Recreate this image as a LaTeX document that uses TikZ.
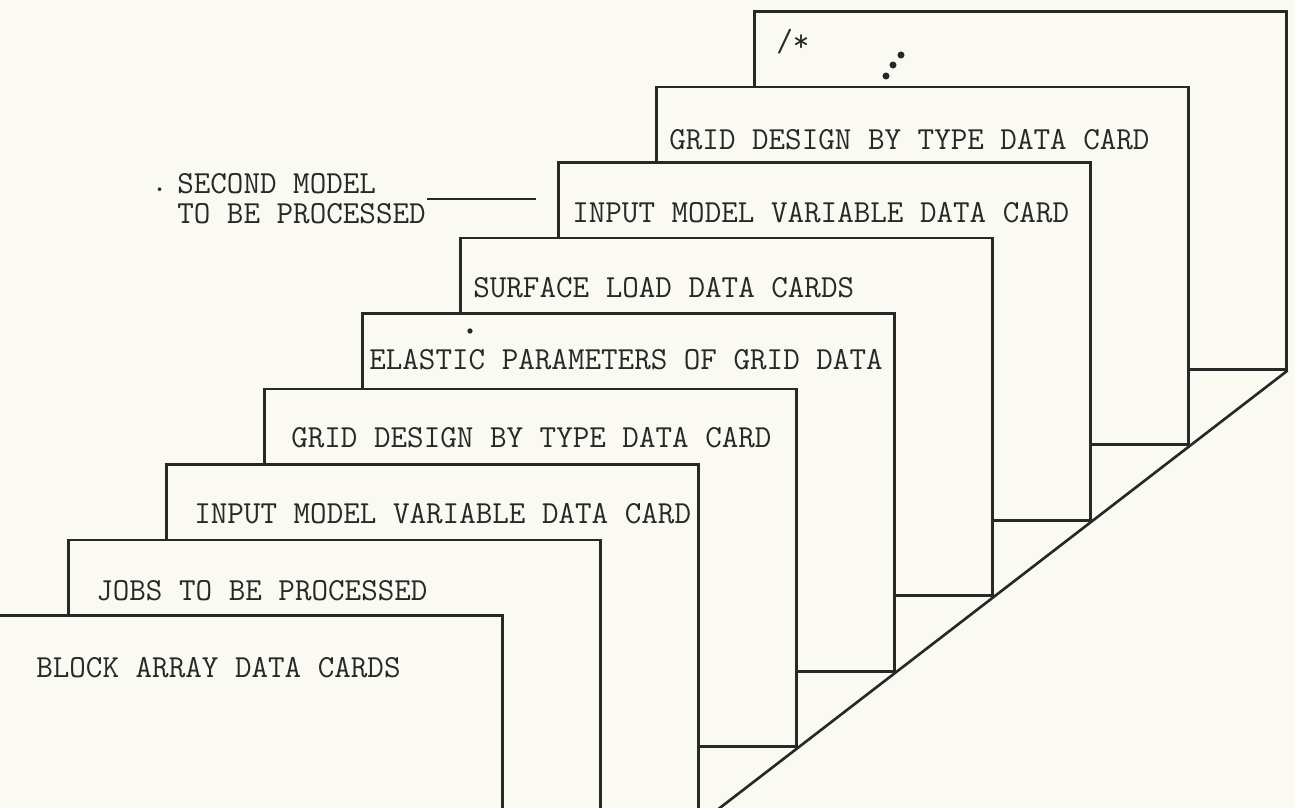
\documentclass[tikz,border=0pt]{standalone}
\usepackage{tikz}
\usetikzlibrary{positioning,calc}
\definecolor{paper}{RGB}{250,250,243}
\definecolor{ink}{RGB}{40,40,40}

\begin{document}
\begin{tikzpicture}[
  x=0.02cm, y=-0.02cm,
  line width=1.5pt,
  every node/.append style={
    font=\fontsize{18.3}{23}\selectfont\ttfamily,
    text=ink
  },
  card/.style={draw=ink, fill=paper, inner sep=0pt,
    minimum width=10.64cm, minimum height=7.16cm, anchor=north west},
  cardtext/.style={anchor=west, inner sep=0pt}
]

\fill[paper] (0,0) rectangle (1295,808);
\useasboundingbox (0,0) rectangle (1295,808);

\begin{scope}
  \clip (0,0) rectangle (1295,808);
  % the deck, back card first
  \foreach \i in {8,7,...,0}
    \node[card] (c\i) at ({753-98*(8-\i)},{10+75.5*(8-\i)}) {};
  \draw[ink] (c8.south east) -- (c0.south east);
\end{scope}

\node[cardtext] (t8) at ($(c8.north west)+(22,32)$) {/*};
\fill[ink] (886,76) circle (2pt) (893,65) circle (2pt) (901,55) circle (2pt);
\node[cardtext] (t7) at ($(c7.north west)+(13,54)$) {GRID DESIGN BY TYPE DATA CARD};
\node[cardtext] (t6) at ($(c6.north west)+(14,52)$) {INPUT MODEL VARIABLE DATA CARD};
\node[cardtext] (t5) at ($(c5.north west)+(13,51)$) {SURFACE LOAD DATA CARDS};
\node[cardtext] (t4) at ($(c4.north west)+(7,48)$) {ELASTIC PARAMETERS OF GRID DATA};
\fill[ink] (470,331) circle (1.5pt);
\node[cardtext] (t3) at ($(c3.north west)+(27,50)$) {GRID DESIGN BY TYPE DATA CARD};
\node[cardtext] (t2) at ($(c2.north west)+(28,51)$) {INPUT MODEL VARIABLE DATA CARD};
\node[cardtext] (t1) at ($(c1.north west)+(28,52)$) {JOBS TO BE PROCESSED};
\node[cardtext] (t0) at ($(c0.north west)+(66,54)$) {BLOCK ARRAY DATA CARDS};

% label for the second model
\node[cardtext, align=left, font=\fontsize{18.3}{17.1}\selectfont\ttfamily]
  (second) at (176,199) {SECOND MODEL\\TO BE PROCESSED};
\node[cardtext] (dot) at (150,190) {.};
\coordinate (lead) at (536,199);
\draw[ink, line width=1pt] (second.east) -- (lead);
\end{tikzpicture}
\end{document}
